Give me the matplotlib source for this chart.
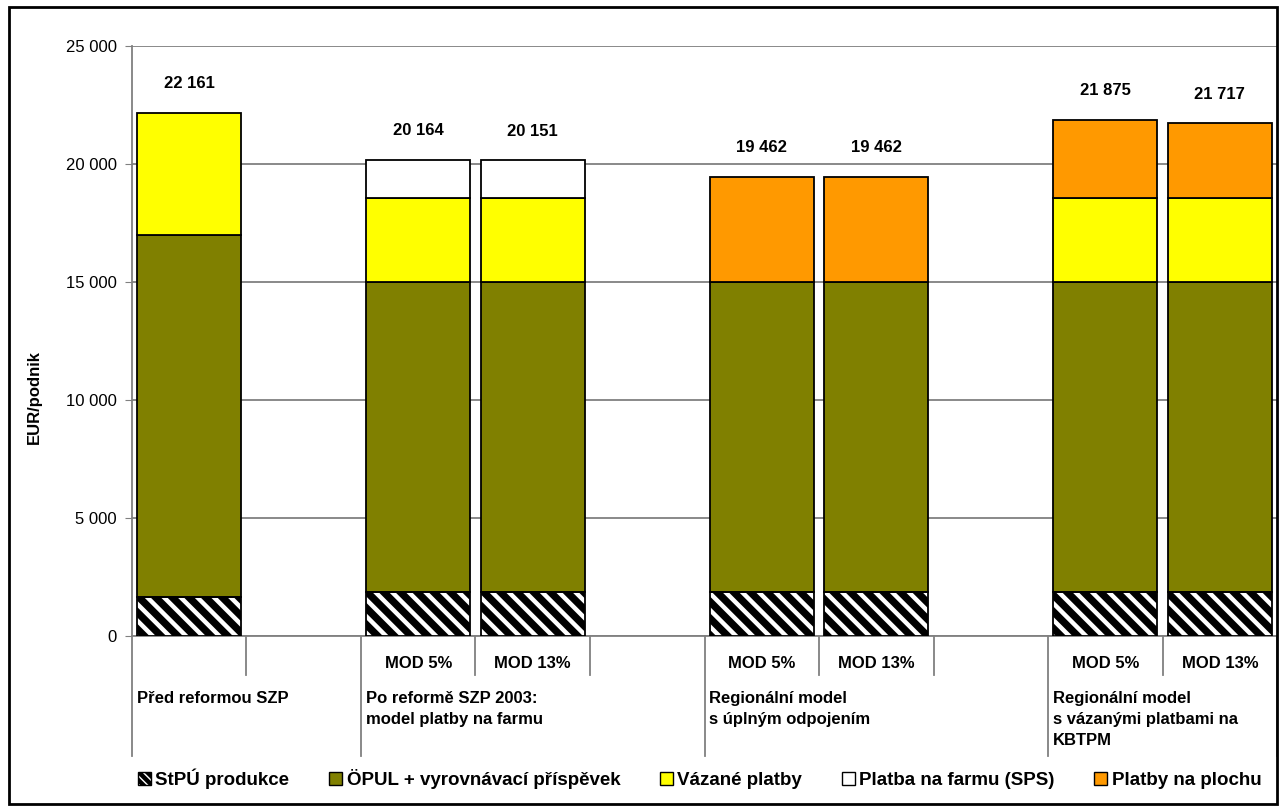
import matplotlib
matplotlib.use('Agg')
import matplotlib.pyplot as plt
from matplotlib.patches import Patch, Rectangle
from matplotlib.ticker import FuncFormatter
import numpy as np

plt.rcParams['font.family'] = ['Liberation Sans', 'DejaVu Sans']
plt.rcParams['hatch.linewidth'] = 3.2

# one slot per category, empty strings are spacer slots
slots = ['', '', 'MOD 5%', 'MOD 13%', '', 'MOD 5%', 'MOD 13%', '', 'MOD 5%', 'MOD 13%']
groups = ['Před reformou SZP',
          'Po reformě SZP 2003:\nmodel platby na farmu',
          'Regionální model\ns úplným odpojením',
          'Regionální model\ns vázanými platbami na\nKBTPM']
group_sizes = [2, 3, 3, 2]

stpu = [1650, 0, 1870, 1870, 0, 1870, 1870, 0, 1870, 1870]
opul = [15340, 0, 13130, 13130, 0, 13130, 13130, 0, 13130, 13130]
vazane = [5171, 0, 3550, 3550, 0, 0, 0, 0, 3550, 3550]
sps = [0, 0, 1614, 1601, 0, 0, 0, 0, 0, 0]
plocha = [0, 0, 0, 0, 0, 4462, 4462, 0, 3325, 3167]
totals = [22161, 0, 20164, 20151, 0, 19462, 19462, 0, 21875, 21717]

series = [('ÖPUL + vyrovnávací příspěvek', opul, '#808000'),
          ('Vázané platby', vazane, '#FFFF00'),
          ('Platba na farmu (SPS)', sps, '#FFFFFF'),
          ('Platby na plochu', plocha, '#FF9900')]

fig = plt.figure(figsize=(12.86, 8.1), dpi=100)
ax = fig.add_axes([0.1026, 0.2148, 0.8905, 0.7284])

x = np.arange(len(slots))
w = 0.91
has_bar = np.array(totals) > 0

# hatched bottom segment
xs = x[has_bar]
st = np.array(stpu)[has_bar]
ax.bar(xs, st, w, color='black', edgecolor='white', hatch='\\\\', linewidth=0, zorder=3)
ax.bar(xs, st, w, fill=False, edgecolor='black', linewidth=1.3, zorder=4)

bottom = np.array(stpu, dtype=float)
for name, vals, col in series:
    v = np.array(vals, dtype=float)
    m = v > 0
    ax.bar(x[m], v[m], w, bottom=bottom[m], color=col, edgecolor='black', linewidth=1.3, zorder=3)
    bottom += v

for xi, t in zip(x, totals):
    if t > 0:
        ax.annotate(f'{t:,}'.replace(',', ' '), (xi, t), xytext=(0, 21), textcoords='offset points',
                    ha='center', va='center', fontsize=12, fontweight='bold')

ax.set_xlim(-0.5, len(slots) - 0.5)
ax.set_ylim(0, 25000)
ax.set_yticks(np.arange(0, 25001, 5000))
ax.yaxis.set_major_formatter(FuncFormatter(lambda v, p: f'{v:,.0f}'.replace(',', ' ')))
ax.tick_params(axis='y', labelsize=12, length=5, color='#808080', pad=6)
ax.set_xticks([])
ax.grid(axis='y', color='#808080', linewidth=1.3, zorder=0)
for s in ['top', 'right']:
    ax.spines[s].set_visible(False)
ax.spines['left'].set_color('#808080')
ax.spines['bottom'].set_color('#808080')
ax.spines['left'].set_linewidth(1.3)
ax.spines['bottom'].set_linewidth(1.3)

# multi-level category axis
tr = ax.get_xaxis_transform()
for xi, lab in zip(x, slots):
    if lab:
        ax.text(xi, -0.046, lab, transform=tr, ha='center', va='center', fontsize=12, fontweight='bold')
edges = np.cumsum([0] + group_sizes) - 0.5
for b in np.arange(len(slots) + 1) - 0.5:
    long_line = np.any(np.isclose(edges, b))
    ax.plot([b, b], [0, -0.203 if long_line else -0.066], transform=tr, color='#808080',
            linewidth=1.3, clip_on=False)
for e, g in zip(edges[:-1], groups):
    ax.text(e + 0.04, -0.094, g, transform=tr, ha='left', va='top', fontsize=12,
            fontweight='bold', linespacing=1.5)

fig.text(0.027, 0.51, 'EUR/podnik', rotation=90, ha='center', va='center',
         fontsize=12, fontweight='bold')

handles = [Patch(facecolor='white', edgecolor='black', hatch='\\\\\\\\', linewidth=1.0)]
handles += [Patch(facecolor=c, edgecolor='black', linewidth=1.0) for _, _, c in series]
labels = ['StPÚ produkce'] + [n for n, _, _ in series]
fig.legend(handles, labels, loc='center', bbox_to_anchor=(0.544, 0.039), ncol=5, frameon=False,
           prop={'size': 13.5, 'weight': 'bold'}, handlelength=0.7, handleheight=0.7,
           handletextpad=0.25, columnspacing=2.1, borderaxespad=0)

fig.patches.append(Rectangle((0.007, 0.008), 0.986, 0.983, transform=fig.transFigure,
                             fill=False, edgecolor='black', linewidth=2))

fig.savefig('out.png', dpi=100)
